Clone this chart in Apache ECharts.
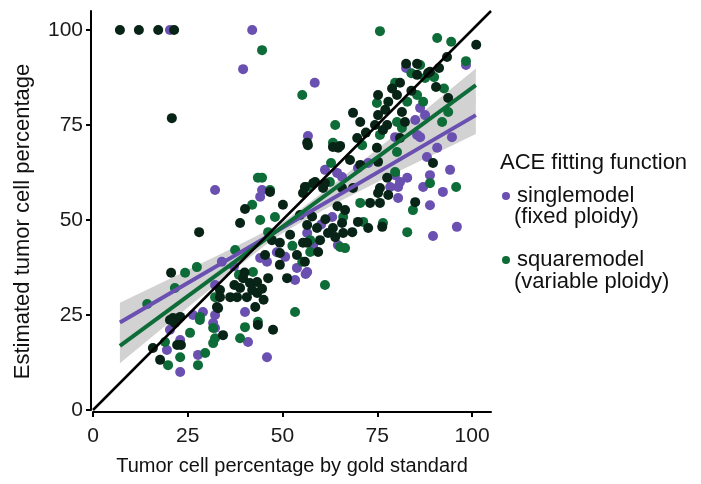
<!DOCTYPE html>
<html>
<head>
<meta charset="utf-8">
<script src="https://cdn.jsdelivr.net/npm/echarts@6/dist/echarts.min.js"></script>
<style>html,body{margin:0;padding:0;background:#fff}#c{width:701px;height:484px}</style>
</head>
<body>
<div id="c"></div>
<script>
// ---- data ----
const singlemodelPoints = [
[20.3,100],[42.0,100],[39.6,89.7],[58.5,86.1],[56.7,72.1],[82.6,90.0],[98.4,90.8],[86.3,79.5],[87.6,77.6],[85.5,72.4],
[69.9,63.7],[61.2,63.2],[64.4,62.4],[79.7,71.8],[86.3,71.8],[90.8,69.0],[94.7,71.8],[88.1,66.6],[94.2,63.2],[88.9,61.8],
[92.3,57.4],[87.1,58.7],[82.9,61.1],[79.7,61.8],[72.6,65.0],[80.5,58.7],[65.7,61.3],[32.2,57.9],[44.6,57.9],[44.1,56.1],
[44.1,40.0],[45.9,39.0],[50.7,40.3],[53.8,37.4],[56.5,36.3],[53.3,34.2],[34.0,39.0],[32.2,32.9],[40.1,25.8],[29.0,25.8],
[26.4,25.0],[31.7,22.9],[40.9,17.9],[23.0,18.4],[27.7,14.5],[23.0,10.0],[45.9,13.9],[20.3,21.1],[19.5,15.8],[32.2,25.0],
[32.2,21.6],[56.1,35.8],[88.9,53.9],[96.0,48.2],[89.7,45.8],[80.5,55.8],[58.1,43.4],[63.1,50.8],[56.5,46.6],[64.6,43.4],
[81.0,60.0],[78.4,58.7],[85.0,76.3],[37.2,37.8],[48.5,41.5],[60.2,48.8]
];
const squaremodelPoints = [
[44.6,94.7],[75.7,99.7],[90.8,97.9],[94.5,96.9],[98.4,91.8],[55.2,82.9],[86.3,90.8],[87.6,87.4],[90.0,87.6],[85.5,82.9],
[87.1,81.1],[79.7,86.1],[74.9,80.8],[82.9,81.1],[63.9,75.0],[80.2,75.8],[93.7,78.4],[92.1,75.8],[63.3,70.3],[71.0,69.7],
[75.7,72.4],[81.5,74.2],[80.2,67.9],[79.7,62.6],[62.5,60.0],[95.8,58.7],[88.9,59.7],[84.4,52.6],[82.9,46.8],[76.5,49.2],
[70.5,54.5],[66.0,50.8],[57.3,44.7],[65.2,42.9],[66.5,42.6],[57.3,41.6],[61.2,32.9],[62.8,65.0],[56.5,58.7],[71.3,49.5],
[43.5,61.1],[44.6,61.1],[46.7,57.9],[42.0,54.0],[44.1,50.0],[48.0,50.8],[37.5,42.1],[27.4,37.6],[24.3,36.1],[46.2,46.8],
[55.2,39.0],[42.2,36.3],[32.2,29.7],[53.3,25.8],[28.2,24.5],[31.7,21.6],[40.1,21.8],[38.8,18.9],[25.6,20.3],[32.2,18.9],
[31.7,17.6],[27.7,11.8],[29.6,15.0],[14.3,27.9],[21.6,32.1],[19.0,17.9],[23.0,13.9],[19.8,11.8],[28.2,23.7],[43.5,23.2],
[38.5,35.6],[52.6,43.2],[84.0,88.6],[92.6,84.6]
];
// samples where both fitting functions give the same estimate (dark overlap points)
const bothModelsPoints = [
[7.1,100],[12.1,100],[17.2,100],[21.4,100],[20.8,76.8],[101.1,96.1],[93.4,92.9],[82.6,91.1],[85.5,91.1],[88.9,89.0],
[91.3,90.0],[85.5,88.2],[90.5,85.0],[88.4,88.7],[81.0,86.1],[75.2,82.9],[80.2,82.9],[77.9,81.1],[93.7,82.1],[68.6,78.2],
[70.5,75.8],[75.2,77.6],[77.1,79.0],[81.5,78.4],[82.3,75.8],[74.4,75.0],[77.6,75.0],[76.5,73.7],[56.5,70.3],[64.7,69.0],
[69.7,71.6],[74.9,69.0],[81.0,71.6],[67.8,65.8],[75.2,65.3],[77.6,61.1],[75.7,58.4],[75.2,57.1],[77.9,56.6],[58.6,60.0],
[55.9,58.7],[60.7,58.4],[65.7,58.4],[63.3,69.2],[56.7,69.7],[65.2,69.5],[70.5,64.5],[58.1,59.7],[61.2,59.7],[68.6,58.4],
[89.7,65.0],[46.7,57.4],[40.1,52.9],[50.1,54.0],[38.8,49.2],[28.0,46.8],[55.4,57.1],[49.3,44.0],[49.3,41.3],[53.8,40.8],
[56.5,44.0],[49.3,38.2],[51.2,34.7],[39.6,34.7],[41.4,33.4],[43.3,33.7],[38.8,32.1],[42.0,31.6],[40.6,29.7],[43.3,30.8],
[38.0,29.7],[33.5,31.6],[36.2,29.7],[33.5,29.7],[32.7,27.1],[42.8,27.1],[46.2,34.7],[43.5,22.4],[47.5,21.1],[34.3,19.7],
[22.2,17.1],[23.2,17.1],[23.0,24.5],[21.1,24.2],[20.6,36.1],[21.6,22.9],[15.8,16.3],[17.7,13.2],[33.0,26.8],[85.0,54.7],
[75.7,54.5],[72.6,47.9],[68.4,46.8],[76.3,48.2],[65.7,49.2],[69.9,49.5],[63.3,47.9],[66.0,46.6],[62.0,46.6],[59.1,47.9],
[56.5,48.7],[66.5,52.6],[63.9,45.5],[59.9,44.7],[55.4,44.0],[59.4,41.6],[55.9,39.0],[73.1,54.5],[52.0,46.1],[54.6,51.3],
[45.4,40.8],[47.2,44.7],[20.3,23.7],[40.0,36.2],[44.6,31.9],[37.3,32.9],[45.0,29.0],[61.3,50.2],[57.8,50.9],[64.5,53.6],
[78.9,84.6],[84.0,84.0],[72.0,73.0]
];
// linear fits and their confidence bands
const fitX = [7.1, 101];
const singlemodelFit = [23.0, 77.6];
const squaremodelFit = [16.9, 85.5];
const bandX = [7.1, 20, 35, 50, 55, 65, 80, 101];
const singleLower = [17.8, 26.6, 36.7, 46.5, 49.5, 54.9, 62.5, 72.6];
const singleUpper = [28.2, 34.4, 41.7, 49.3, 52.1, 58.3, 68.3, 82.6];
const squareLower = [12.3, 22.9, 35.1, 47.0, 50.8, 57.8, 67.5, 81.1];
const squareUpper = [21.5, 29.8, 39.5, 49.4, 53.0, 60.6, 72.7, 89.9];
const identityLine = [[0, 0], [105, 105]];
const tickValues = [0, 25, 50, 75, 100];

const PURPLE = '#6a50b0', GREEN = '#0e6c38', DARK = '#082416';
const FONT = 'Liberation Sans, Arial, sans-serif';

function bandSeries(lower, upper) {
  return {
    type: 'custom', silent: true, z: 1, data: [[0, 0]],
    renderItem: function (params, api) {
      const pts = [];
      for (let i = 0; i < bandX.length; i++) pts.push(api.coord([bandX[i], upper[i]]));
      for (let i = bandX.length - 1; i >= 0; i--) pts.push(api.coord([bandX[i], lower[i]]));
      return { type: 'polygon', shape: { points: pts }, style: { fill: '#d2d2d2' } };
    }
  };
}
function axisCommon() {
  return {
    type: 'value', min: 0, max: 105, offset: 2,
    axisLine: { show: true, onZero: false, lineStyle: { color: '#000', width: 2 } },
    axisTick: { show: true, length: 5, lineStyle: { color: '#000', width: 2 }, customValues: tickValues },
    axisLabel: { fontSize: 21, color: '#1a1a1a', fontFamily: FONT, customValues: tickValues },
    splitLine: { show: false },
    nameLocation: 'middle',
    nameTextStyle: { fontSize: 20, color: '#111', fontFamily: FONT }
  };
}
const chart = echarts.init(document.getElementById('c'), null, { renderer: 'canvas' });
const xAx = axisCommon(); xAx.name = 'Tumor cell percentage by gold standard'; xAx.nameGap = 44; xAx.axisLabel.margin = 14;
const yAx = axisCommon(); yAx.name = 'Estimated tumor cell percentage'; yAx.nameGap = 57; yAx.axisLabel.margin = 8;
yAx.nameTextStyle = { fontSize: 22, color: '#111', fontFamily: FONT, padding: [0, 22, 0, 0] };
chart.setOption({
  animation: false,
  backgroundColor: '#fff',
  grid: { left: 93, right: 210, top: 11, bottom: 74, containLabel: false },
  title: { text: 'ACE fitting function', left: 495, top: 147, textStyle: { fontSize: 22, fontWeight: 'normal', color: '#111', fontFamily: FONT } },
  legend: {
    orient: 'vertical', left: 497, top: 178, itemWidth: 12, itemHeight: 8, itemGap: 38, icon: 'circle',
    data: ['singlemodel', 'squaremodel'],
    textStyle: { fontSize: 22, lineHeight: 26, color: '#111', fontFamily: FONT }
  },
  graphic: [
    { type: 'text', left: 514, top: 206, style: { text: '(fixed ploidy)', font: '22px ' + FONT, fill: '#111' } },
    { type: 'text', left: 514, top: 271, style: { text: '(variable ploidy)', font: '22px ' + FONT, fill: '#111' } }
  ],
  xAxis: xAx,
  yAxis: yAx,
  series: [
    bandSeries(singleLower, singleUpper),
    bandSeries(squareLower, squareUpper),
    { name: 'singlemodel', type: 'scatter', symbolSize: 10, z: 2, data: singlemodelPoints, itemStyle: { color: PURPLE, opacity: 1 } },
    { name: 'squaremodel', type: 'scatter', symbolSize: 10, z: 3, data: squaremodelPoints, itemStyle: { color: GREEN, opacity: 1 } },
    { name: 'both', type: 'scatter', symbolSize: 10, z: 4, data: bothModelsPoints, itemStyle: { color: DARK, opacity: 1 } },
    { name: 'singlefit', type: 'line', z: 5, symbol: 'none', data: fitX.map((x, i) => [x, singlemodelFit[i]]), lineStyle: { color: PURPLE, width: 4 } },
    { name: 'squarefit', type: 'line', z: 5, symbol: 'none', data: fitX.map((x, i) => [x, squaremodelFit[i]]), lineStyle: { color: GREEN, width: 4 } },
    { name: 'identity', type: 'line', z: 6, symbol: 'none', data: identityLine, lineStyle: { color: '#000', width: 2.5 } }
  ]
});
</script>
</body>
</html>
